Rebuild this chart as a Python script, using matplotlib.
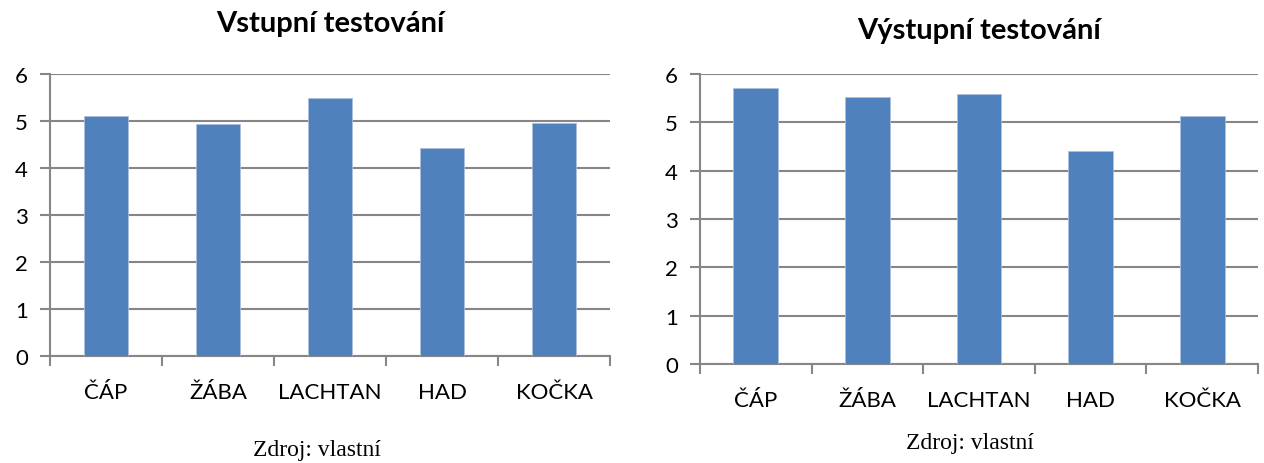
import matplotlib.pyplot as plt
from matplotlib.ticker import FixedLocator

# Average scores per group
categories = ['ČÁP', 'ŽÁBA', 'LACHTAN', 'HAD', 'KOČKA']
vstupni = [5.11, 4.93, 5.49, 4.43, 4.95]
vystupni = [5.72, 5.52, 5.59, 4.40, 5.14]
titles = ['Vstupní testování', 'Výstupní testování']
source = 'Zdroj: vlastní'

bar_color = '#4F81BD'
grid_color = '#868686'
label_font = 'Lato'

fig = plt.figure(figsize=(12.64, 4.64), dpi=100)
ax1 = fig.add_axes([50 / 1264, 1 - 357 / 464, 560 / 1264, 282 / 464])
ax2 = fig.add_axes([700 / 1264, 1 - 365 / 464, 558 / 1264, 290 / 464])


def draw(ax, values, title, title_pad):
    x = range(len(categories))
    ax.bar(x, values, width=0.4, color=bar_color, edgecolor='#A9C0DE',
           linewidth=0.6, zorder=3)
    ax.set_xlim(-0.5, len(categories) - 0.5)
    ax.set_ylim(0, 6)
    ax.set_yticks(range(0, 7))
    ax.set_xticks(list(x))
    ax.set_xticklabels(categories, fontfamily=label_font, fontsize=16)
    ax.xaxis.set_minor_locator(FixedLocator([i - 0.5 for i in range(len(categories) + 1)]))
    ax.tick_params(axis='x', which='major', length=0, pad=19)
    ax.tick_params(axis='x', which='minor', length=7, width=1.5, color=grid_color)
    ax.tick_params(axis='y', length=7, width=1.5, color=grid_color, pad=9)
    for lab in ax.get_yticklabels():
        lab.set_fontfamily(label_font)
        lab.set_fontsize(16)
    ax.grid(axis='y', color=grid_color, linewidth=1.5, zorder=0)
    for side in ('top', 'right'):
        ax.spines[side].set_visible(False)
    for side in ('left', 'bottom'):
        ax.spines[side].set_color(grid_color)
        ax.spines[side].set_linewidth(1.5)
    ax.set_title(title, fontfamily=label_font, fontweight='bold', fontsize=21,
                 pad=title_pad)


draw(ax1, vstupni, titles[0], 31)
draw(ax2, vystupni, titles[1], 26)

fig.text(317 / 1264, 1 - 451 / 464, source, fontfamily='Liberation Serif',
         fontsize=17, ha='center', va='center')
fig.text(970 / 1264, 1 - 444 / 464, source, fontfamily='Liberation Serif',
         fontsize=17, ha='center', va='center')

fig.savefig('out.png', dpi=100)
